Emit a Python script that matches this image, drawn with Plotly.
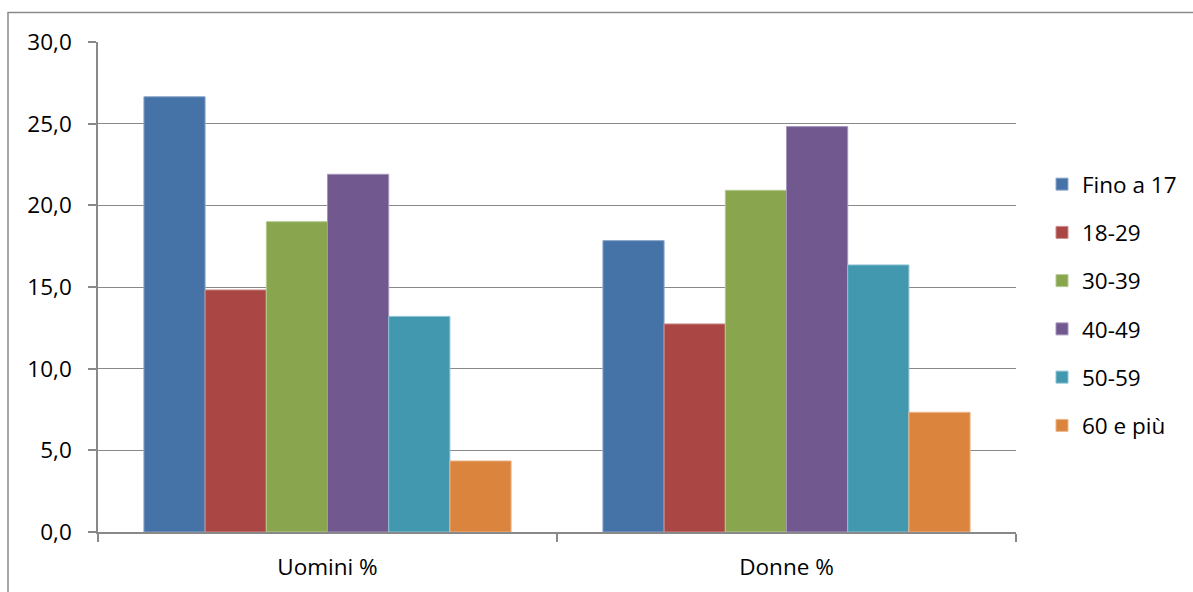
import plotly.graph_objects as go

# Share of each age band, by sex
categories = ["Uomini %", "Donne %"]
age_bands = ["Fino a 17", "18-29", "30-39", "40-49", "50-59", "60 e più"]
values = {
    "Fino a 17": [26.65, 17.84],
    "18-29": [14.82, 12.74],
    "30-39": [19.0, 20.92],
    "40-49": [21.9, 24.82],
    "50-59": [13.2, 16.35],
    "60 e più": [4.35, 7.33],
}
y_ticks = [0, 5, 10, 15, 20, 25, 30]

colors = ["#4572A7", "#AA4643", "#89A54E", "#71588F", "#4198AF", "#DB843D"]
edges = ["#8FA9CC", "#CC8E8C", "#B6CB92", "#A595BC", "#8CC3D2", "#EDB78C"]

W, H = 1193, 592
L, R, T, B = 98, 1016, 42, 532  # plot area in pixels
FONT = "Open Sans, Liberation Sans, sans-serif"
FS = 22.5

fig = go.Figure()
for i, band in enumerate(age_bands):
    fig.add_trace(go.Bar(
        name=band,
        x=categories,
        y=values[band],
        marker=dict(color=colors[i], line=dict(color=edges[i], width=1)),
        legendgroup=band,
        hoverinfo="x+y+name",
    ))

grid = "#898989"
fig.update_layout(
    width=W, height=H,
    margin=dict(l=L, r=W - R, t=T, b=H - B, autoexpand=False),
    paper_bgcolor="white", plot_bgcolor="white",
    barmode="group", bargap=0.2, bargroupgap=0,
    separators=",.",
    font=dict(family=FONT, size=FS, color="black"),
    showlegend=True,
    legend=dict(
        x=(1042 - L) / (R - L), xanchor="left",
        y=(B - 305) / (B - T), yanchor="middle",
        traceorder="grouped", tracegroupgap=16,
        font=dict(family=FONT, size=FS, color="black"),
        bgcolor="rgba(0,0,0,0)",
    ),
    xaxis=dict(
        type="category", showgrid=False,
        showline=True, linecolor=grid, linewidth=1.5,
        ticks="outside", tickson="boundaries", ticklen=8, tickcolor=grid, tickwidth=1.5,
        tickfont=dict(size=FS), ticklabelstandoff=14,
    ),
    yaxis=dict(
        range=[0, 30], tickvals=y_ticks, tickformat=".1f",
        showgrid=True, gridcolor=grid, gridwidth=1,
        showline=True, linecolor=grid, linewidth=1.5,
        ticks="outside", ticklen=8, tickcolor=grid, tickwidth=1.5,
        tickfont=dict(size=FS), ticklabelstandoff=12,
        zeroline=False,
    ),
    shapes=[dict(
        type="rect", xref="paper", yref="paper", layer="below",
        x0=(8 - L) / (R - L), x1=1.4,
        y0=-0.3, y1=(B - 12.5) / (B - T),
        line=dict(color="#8A8A8A", width=1.5), fillcolor="rgba(0,0,0,0)",
    )],
)

fig.write_html("out.html")
